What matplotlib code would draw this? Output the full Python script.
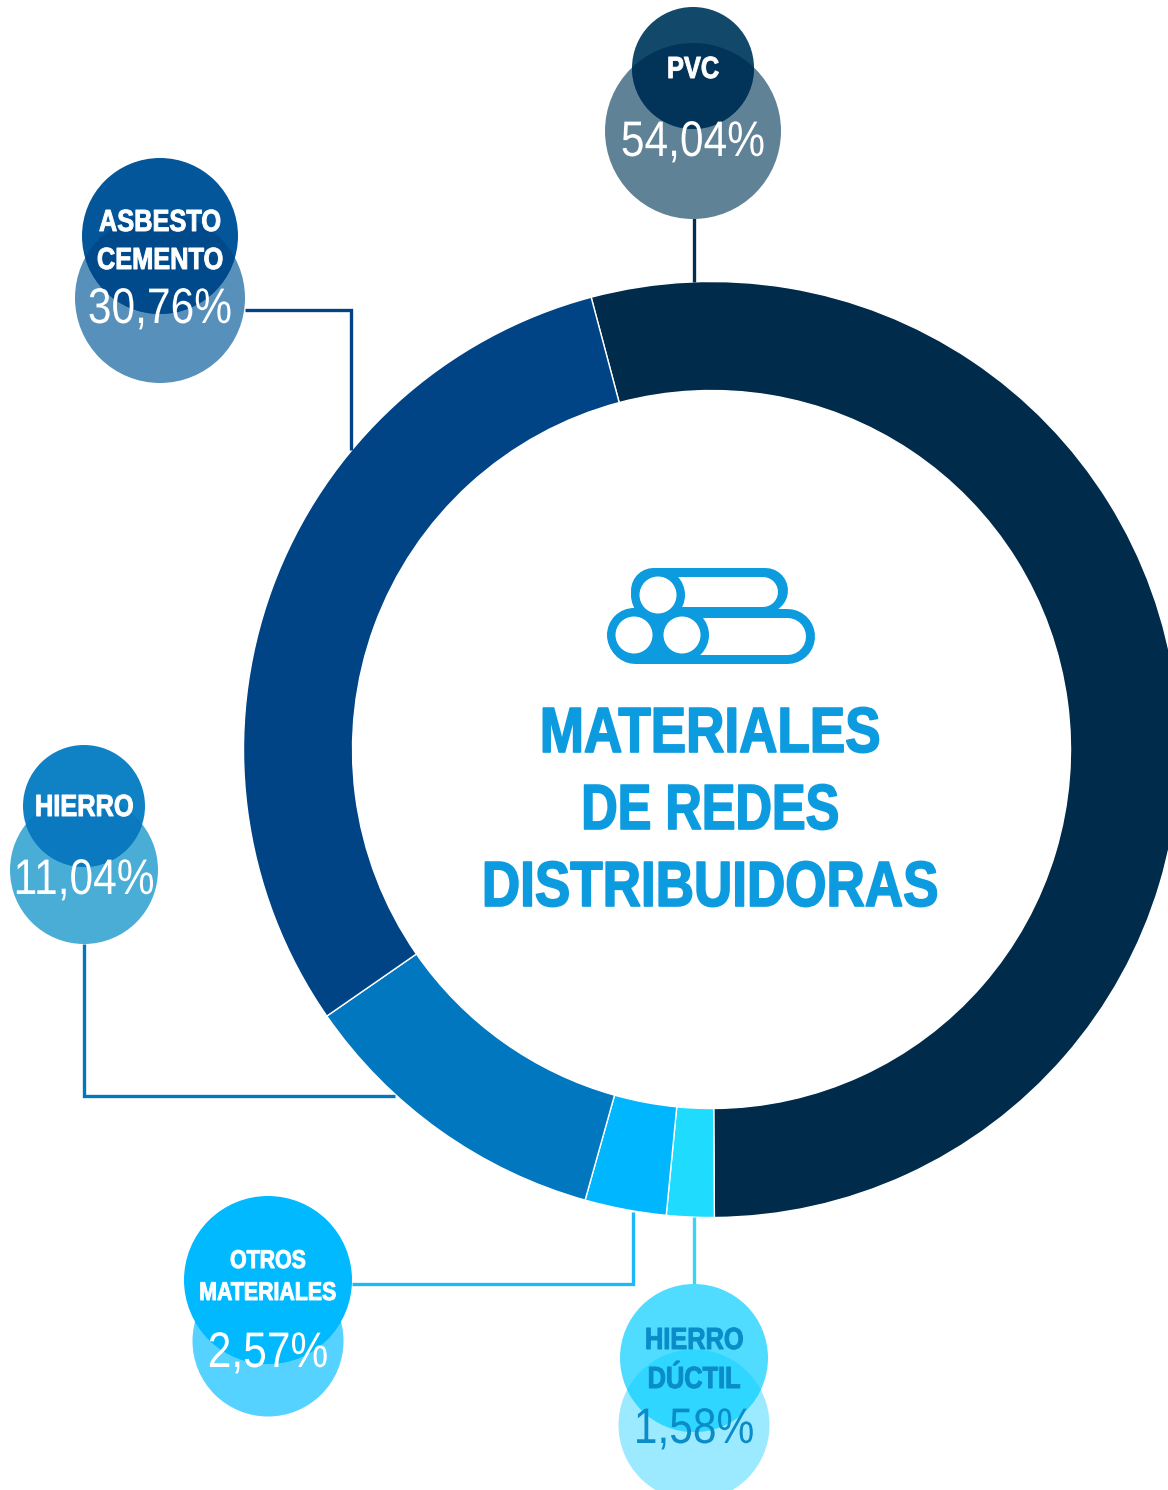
import matplotlib
matplotlib.use('Agg')
import matplotlib.pyplot as plt
from matplotlib.patches import Circle
from matplotlib.patheffects import AbstractPathEffect
from matplotlib.transforms import Affine2D

W, H = 1168, 1490

# data
materiales = ['PVC', 'HIERRO\nDÚCTIL', 'OTROS\nMATERIALES', 'HIERRO', 'ASBESTO\nCEMENTO']
porcentajes = [54.04, 1.58, 2.57, 11.04, 30.76]
# share of the ring as it is drawn in the picture (not exactly the printed numbers)
arcos = [54.03, 1.64, 2.81, 11.0, 30.5]
colores = ['#002b4b', '#1fdcff', '#00b7ff', '#0077be', '#004486']
titulo = ['MATERIALES', 'DE REDES', 'DISTRIBUIDORAS']

plt.rcParams['font.family'] = ['Liberation Sans', 'DejaVu Sans']


def fy(y):
    # picture y (from top) to axes y
    return H - y


class Angosto(AbstractPathEffect):
    # squeeze the glyphs sideways around cx, there is no condensed font here
    def __init__(self, cx, sx=0.83, grueso=0):
        super().__init__()
        self.cx = cx
        self.sx = sx
        self.grueso = grueso

    def draw_path(self, renderer, gc, tpath, affine, rgbFace=None):
        t = affine + Affine2D().translate(-self.cx, 0).scale(self.sx, 1).translate(self.cx, 0)
        gc0 = renderer.new_gc()
        gc0.copy_properties(gc)
        if self.grueso:
            gc0.set_foreground(rgbFace)
            gc0.set_linewidth(self.grueso)
        renderer.draw_path(gc0, tpath, t, rgbFace)
        gc0.restore()


def texto(x, y, s, c, fs, bold=False, sx=0.83, grueso=0):
    ax.text(x, fy(y), s, color=c, fontsize=fs, fontweight='bold' if bold else 'normal',
            ha='center', va='baseline', zorder=6, path_effects=[Angosto(x, sx, grueso)])


fig = plt.figure(figsize=(W / 100, H / 100), dpi=100, facecolor='white')
ax = fig.add_axes([0, 0, 1, 1])

# ring
ax.pie(arcos, colors=colores, startangle=104.9, counterclock=False,
       center=(711.5, fy(749.5)), radius=468, frame=False,
       wedgeprops=dict(width=109, edgecolor='white', linewidth=1))
ax.set_xlim(0, W)
ax.set_ylim(0, H)
ax.set_aspect('auto')
ax.axis('off')

# leader lines
lineas = [
    ([694, 694], [218, 282], '#00304f'),
    ([245, 351, 351], [310, 310, 450], '#004486'),
    ([84, 84, 395], [944, 1096, 1096], '#0077be'),
    ([352, 633, 633], [1284, 1284, 1212], '#1cb8f8'),
    ([694, 694], [1217, 1286], '#3ad2f5'),
]
for xs, ys, c in lineas:
    ax.plot(xs, [fy(y) for y in ys], color=c, lw=2.4, solid_joinstyle='miter', solid_capstyle='butt', zorder=2)

# bubbles: index, top circle, lower circle, colours (top, lower, overlap), text colour,
# label baselines, label size, percent baseline
burbujas = [
    (0, (693, 68, 61), (693, 131, 88), ('#12486a', '#5f8296', '#02345a'), 'white', [78], 22, 156),
    (4, (160, 236, 78), (160, 298, 85), ('#03569a', '#5791bb', '#004a8c'), 'white', [231, 269], 22, 323),
    (3, (84, 806, 61), (84, 870, 74), ('#0f82c6', '#49add6', '#0a79bf'), 'white', [816], 22, 894),
    (2, (268, 1280, 84), (268, 1341, 75.5), ('#00b9ff', '#55d2ff', '#00b9ff'), 'white', [1268, 1300], 18.5, 1367),
    (1, (694, 1358, 74), (694, 1425, 75.5), ('#50dcff', '#9ceaff', '#2fd6ff'), '#0a8cc8', [1349, 1388], 22, 1443),
]
for i, t, b, cols, tc, ys, fs, py in burbujas:
    ax.add_patch(Circle((b[0], fy(b[1])), b[2], fc=cols[1], ec='none', zorder=3))
    top = Circle((t[0], fy(t[1])), t[2], fc=cols[0], ec='none', zorder=4)
    ax.add_patch(top)
    over = Circle((b[0], fy(b[1])), b[2], fc=cols[2], ec='none', zorder=5)
    ax.add_patch(over)
    over.set_clip_path(top)
    for linea, y in zip(materiales[i].split('\n'), ys):
        texto(t[0], y, linea, tc, fs, bold=True, grueso=0.7)
    texto(t[0], py, f'{porcentajes[i]:.2f}%'.replace('.', ','), tc, 36, sx=0.85)

# title
azul = '#0d9be0'
for txt, y, sx in zip(titulo, [752, 829, 906], [0.83, 0.79, 0.83]):
    texto(710, y, txt, azul, 46, bold=True, sx=sx, grueso=1.2)


# pipes icon
def tubo(x0, x1, y, h, c, z):
    r = h / 2
    ax.plot([x0 + r, x1 - r], [fy(y), fy(y)], color=c, lw=h * 0.72, solid_capstyle='round', zorder=z)


tubo(630, 787, 589.5, 45, azul, 6)
tubo(658, 778, 592, 30, 'white', 6)
tubo(607, 814, 635.5, 55, azul, 7)
tubo(682, 805, 635.5, 37, 'white', 7)
for cx, cy, z in [(658, 595, 8), (634, 635, 9), (682, 635, 9)]:
    ax.add_patch(Circle((cx, fy(cy)), 27, fc=azul, ec='none', zorder=z))
for cx, cy in [(658, 595), (634, 635), (682, 635)]:
    ax.add_patch(Circle((cx, fy(cy)), 18.5, fc='white', ec='none', zorder=10))

fig.savefig('out.png', dpi=100, facecolor='white')
